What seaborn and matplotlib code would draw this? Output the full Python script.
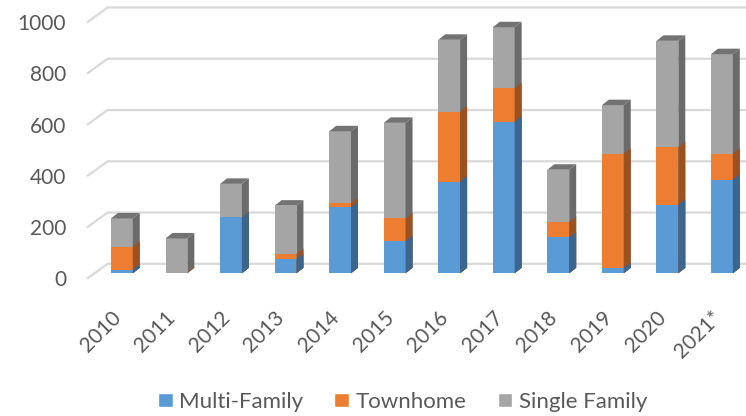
import matplotlib
matplotlib.use("Agg")
import matplotlib.pyplot as plt
from matplotlib.patches import Polygon, Patch
from matplotlib.transforms import ScaledTranslation
import seaborn as sns

years = ["2010", "2011", "2012", "2013", "2014", "2015",
         "2016", "2017", "2018", "2019", "2020", "2021*"]
multi_family = [14, 0, 218, 55, 258, 125, 358, 591, 140, 21, 267, 365]
townhome = [89, 3, 0, 20, 15, 89, 272, 131, 61, 446, 226, 102]
single_family = [111, 133, 131, 189, 281, 373, 281, 238, 203, 189, 414, 388]
y_ticks = [0, 200, 400, 600, 800, 1000]

BLUE, BLUE_SIDE = "#5b9bd5", "#3b6690"
ORANGE, ORANGE_SIDE = "#ed7d31", "#9c5220"
GRAY, GRAY_SIDE, GRAY_TOP = "#a5a5a5", "#6b6b6b", "#737373"
TEXT = "#595959"

sns.set_theme(style="white")
plt.rcParams['font.family'] = ['Lato', 'DejaVu Sans']

W, H = 746, 416
fig = plt.figure(figsize=(W / 100, H / 100), dpi=100)
# axes = front plane of the 3d box, in pixels
ax_l, ax_b, ax_w, ax_h = 87.6, 137.7, 654.6, 256.3
ax = fig.add_axes([ax_l / W, ax_b / H, ax_w / W, ax_h / H])
ppx = ax_w / len(years)
ppy = ax_h / 1000

# pixel offsets turned into data units
depth_x, depth_y = 7 / ppx, 5.5 / ppy
wall_x, wall_y = 20 / ppx, 14.5 / ppy
bar_tr = ax.transData + ScaledTranslation(7 / 100, 5 / 100, fig.dpi_scale_trans)

# back wall gridlines with the slanted bit on the left
for v in y_ticks:
    ax.plot([-0.5, -0.5 + wall_x, len(years) + 1], [v, v + wall_y, v + wall_y],
            color="#d9d9d9", lw=1.6, clip_on=False, zorder=0)

total = [m + t + s for m, t, s in zip(multi_family, townhome, single_family)]
multi_town = [m + t for m, t in zip(multi_family, townhome)]

layers = [(total, GRAY, GRAY_SIDE, True),
          (multi_town, ORANGE, ORANGE_SIDE, False),
          (multi_family, BLUE, BLUE_SIDE, False)]

for heights, face, side, has_top in layers:
    n0 = len(ax.patches)
    sns.barplot(x=years, y=heights, color=face, saturation=1, width=0.4,
                ax=ax, zorder=2, linewidth=0)
    for p in list(ax.patches[n0:]):
        p.set_transform(bar_tr)
        p.set_clip_on(False)
        x0 = p.get_x()
        x1 = x0 + p.get_width()
        h = p.get_height()
        if h <= 0:
            continue
        ax.add_patch(Polygon([(x1, 0), (x1, h), (x1 + depth_x, h + depth_y), (x1 + depth_x, depth_y)],
                             closed=True, facecolor=side, edgecolor="none",
                             transform=bar_tr, zorder=2, clip_on=False))
        if has_top:
            ax.add_patch(Polygon([(x0, h), (x1, h), (x1 + depth_x, h + depth_y), (x0 + depth_x, h + depth_y)],
                                 closed=True, facecolor=GRAY_TOP, edgecolor="none",
                                 transform=bar_tr, zorder=2, clip_on=False))

ax.set_xlim(-0.5, len(years) - 0.5)
ax.set_ylim(0, 1000)
ax.set_yticks(y_ticks)
ax.set_xlabel("")
ax.set_ylabel("")
for s in ax.spines.values():
    s.set_visible(False)
ax.grid(False)
ax.tick_params(axis="y", length=0, pad=15.5, labelsize=15, labelcolor=TEXT)
ax.tick_params(axis="x", length=0, pad=26, labelsize=15, labelcolor=TEXT)
label_shift = ScaledTranslation(3 / 100, 0, fig.dpi_scale_trans)
for lab in ax.get_xticklabels():
    lab.set_rotation(45)
    lab.set_ha("right")
    lab.set_va("center")
    lab.set_rotation_mode("anchor")
    lab.set_transform(lab.get_transform() + label_shift)

handles = [Patch(facecolor=BLUE, label="Multi-Family"),
           Patch(facecolor=ORANGE, label="Townhome"),
           Patch(facecolor=GRAY, label="Single Family")]
fig.legend(handles=handles, loc="center", bbox_to_anchor=(0.5396, 0.034), ncol=3,
           frameon=False, fontsize=16, handlelength=0.65, handleheight=0.65,
           handletextpad=0.3, columnspacing=1.4, labelcolor=TEXT)

fig.savefig("out.png", dpi=100)
plt.close(fig)
